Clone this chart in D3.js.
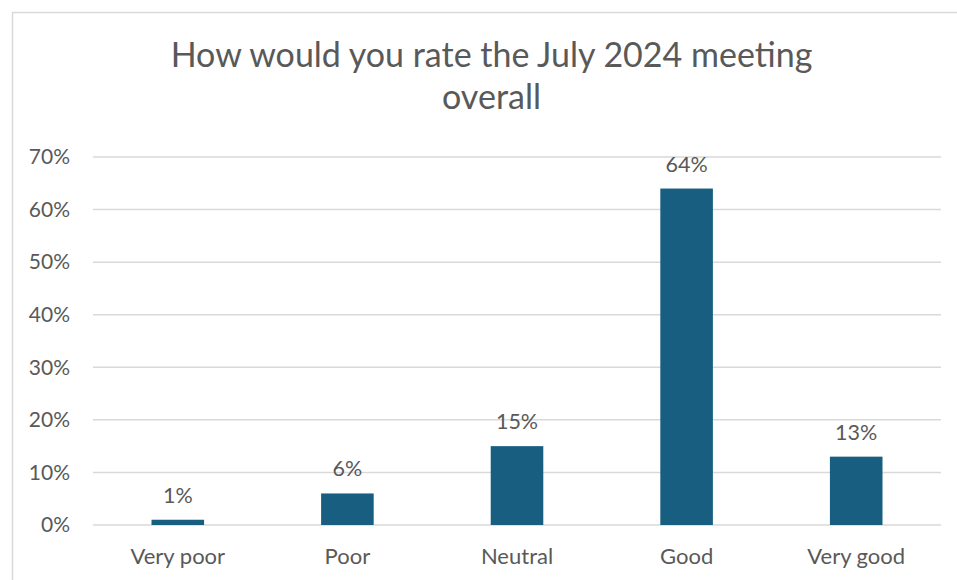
<!DOCTYPE html>
<html>
<head>
<meta charset="utf-8">
<script src="https://cdn.jsdelivr.net/npm/d3@7/dist/d3.min.js"></script>
<style>
  html, body { margin: 0; padding: 0; background: #fff; }
  svg { display: block; }
  text { font-family: Lato, "Open Sans", sans-serif; fill: #595959; }
</style>
</head>
<body>
<svg id="chart" width="957" height="580"></svg>
<script>
const categories = ["Very poor", "Poor", "Neutral", "Good", "Very good"];
const values = [0.01, 0.06, 0.15, 0.64, 0.13];
const valueLabels = ["1%", "6%", "15%", "64%", "13%"];
const yTicks = [0, 0.1, 0.2, 0.3, 0.4, 0.5, 0.6, 0.7];
const titleLines = ["How would you rate the July 2024 meeting", "overall"];

const svg = d3.select("#chart");

// chart border (extends past right/bottom)
svg.append("rect")
  .attr("x", 12.5).attr("y", 12.5)
  .attr("width", 1000).attr("height", 1000)
  .attr("fill", "none").attr("stroke", "#d9d9d9").attr("stroke-width", 1.5);

const plot = { left: 93, right: 941, top: 157, bottom: 525 };

const x = d3.scaleBand()
  .domain(categories)
  .range([plot.left, plot.right])
  .paddingInner(0.69)
  .paddingOuter(0.345);

const y = d3.scaleLinear().domain([0, 0.7]).range([plot.bottom, plot.top]);

// gridlines
svg.append("g")
  .selectAll("line")
  .data(yTicks)
  .join("line")
  .attr("x1", plot.left).attr("x2", plot.right)
  .attr("y1", d => y(d)).attr("y2", d => y(d))
  .attr("stroke", "#d9d9d9").attr("stroke-width", 1.5);

// y axis labels
const yAxis = d3.axisLeft(y).tickValues(yTicks).tickFormat(d3.format(".0%")).tickSize(0).tickPadding(0);
const yg = svg.append("g").attr("transform", `translate(70,0)`).call(yAxis);
yg.select(".domain").remove();
yg.selectAll("text").attr("font-size", 21).attr("fill", "#595959")
  .style("font-family", "Lato, 'Open Sans', sans-serif");

// bars
const data = categories.map((c, i) => ({ c, v: values[i], label: valueLabels[i] }));
svg.append("g")
  .selectAll("rect")
  .data(data)
  .join("rect")
  .attr("x", d => x(d.c))
  .attr("width", x.bandwidth())
  .attr("y", d => y(d.v))
  .attr("height", d => y(0) - y(d.v))
  .attr("fill", "#175e80");

// value labels
svg.append("g")
  .selectAll("text")
  .data(data)
  .join("text")
  .attr("x", d => x(d.c) + x.bandwidth() / 2)
  .attr("y", d => y(d.v) - 17)
  .attr("text-anchor", "middle")
  .attr("font-size", 21.5)
  .text(d => d.label);

// x axis labels
const xAxis = d3.axisBottom(x).tickSize(0).tickPadding(0);
const xg = svg.append("g").attr("transform", `translate(0,${plot.bottom})`).call(xAxis);
xg.select(".domain").remove();
xg.selectAll("text").attr("font-size", 22).attr("fill", "#595959")
  .attr("dy", null).attr("y", 39)
  .style("font-family", "Lato, 'Open Sans', sans-serif");

// title
svg.append("g")
  .selectAll("text")
  .data(titleLines)
  .join("text")
  .attr("x", 491.5)
  .attr("y", (d, i) => 67 + i * 42)
  .attr("text-anchor", "middle")
  .attr("font-size", 34)
  .text(d => d);
</script>
</body>
</html>
